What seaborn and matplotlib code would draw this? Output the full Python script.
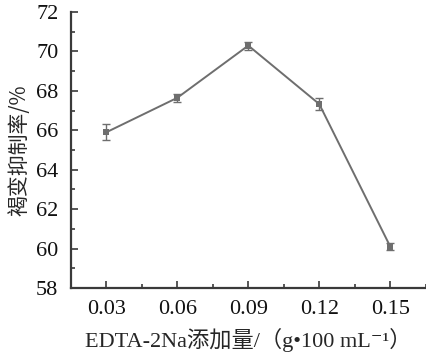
import numpy as np
import pandas as pd
import seaborn as sns
import matplotlib.pyplot as plt
from matplotlib.ticker import MultipleLocator

## data
dose = [0.03, 0.06, 0.09, 0.12, 0.15]
inhibition = [65.9, 67.65, 70.3, 67.33, 60.1]
err = [0.4, 0.2, 0.2, 0.3, 0.2]
xticklabels = ['0.03', '0.06', '0.09', '0.12', '0.15']

df = pd.DataFrame({'dose': dose, 'inhibition': inhibition, 'err': err})

sns.set_style('white')
plt.rcParams['font.family'] = ['Liberation Serif', 'DejaVu Serif', 'Noto Sans CJK SC']

fig = plt.figure(figsize=(4.27, 3.55), dpi=100)
ax = fig.add_axes([0.166, 0.189, 0.831, 0.777])

sns.lineplot(data=df, x='dose', y='inhibition', ax=ax, color='#6e6e6e',
             linewidth=1.4, marker='s', markersize=5, markeredgewidth=0)
ax.errorbar(df['dose'], df['inhibition'], yerr=df['err'], fmt='none',
            ecolor='#6e6e6e', elinewidth=1, capsize=3, capthick=1)

ax.set_xlim(0.015, 0.165)
ax.set_ylim(58, 72)
ax.set_xticks(dose)
ax.set_xticklabels(xticklabels)
ax.set_xticks([0.045, 0.075, 0.105, 0.135, 0.165], minor=True)
ax.yaxis.set_major_locator(MultipleLocator(2))
ax.yaxis.set_minor_locator(MultipleLocator(1))

for s in ['top', 'right']:
    ax.spines[s].set_visible(False)
for s in ['left', 'bottom']:
    ax.spines[s].set_color('#3a3a3a')
    ax.spines[s].set_linewidth(1.6)

ax.tick_params(which='both', direction='in', color='#3a3a3a', width=1.2,
               labelsize=16, labelcolor='#111111', left=True, bottom=True)
ax.tick_params(which='major', length=5, pad=9)
ax.tick_params(which='minor', length=3)

ax.set_xlabel('EDTA-2Na添加量/（g•100 mL⁻¹）', fontsize=16, labelpad=6)
ax.set_ylabel('褐变抑制率/%', fontsize=15, labelpad=4,
              family=['Noto Sans CJK SC', 'Liberation Serif'])

fig.savefig('out.png', dpi=100)
